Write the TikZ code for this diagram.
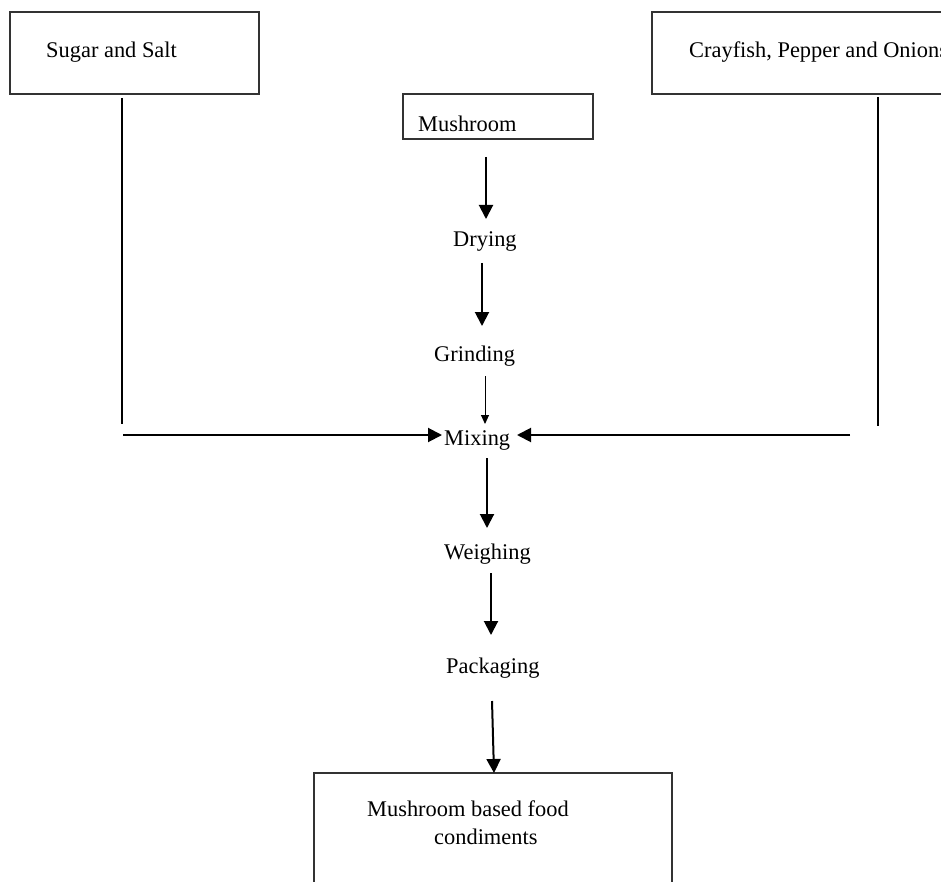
\documentclass[tikz,border=0pt]{standalone}
\usepackage{fontspec}
\setmainfont{Liberation Serif}
\usetikzlibrary{arrows.meta}
\begin{document}
\begin{tikzpicture}[x=1pt,y=-1pt,
  boxline/.style={draw=black!80,line width=1.3pt},
  lbl/.style={anchor=base west,inner sep=0pt,font=\fontsize{22.4}{26}\selectfont},
  flow/.style={line width=2pt,-{Triangle[length=14pt,width=14pt]}},
  thinflow/.style={line width=1pt,-{Triangle[length=9pt,width=8pt]}},
  feed/.style={line width=1.1pt}]
\useasboundingbox (0,0) rectangle (941,882);
% boxes
\draw[boxline] (10,12) rectangle (259,94);
\draw[boxline] (960,12) -- (652,12) -- (652,94) -- (960,94);
\draw[boxline] (403,94) rectangle (593,139);
\draw[boxline] (314,900) -- (314,773) -- (672,773) -- (672,900);
% texts
\node[lbl] (sugar) at (46,58) {Sugar and Salt};
\node[lbl] (cray) at (689,58) {Crayfish, Pepper and Onions};
\node[lbl] (mush) at (418,132) {Mushroom};
\node[lbl] (dry) at (453,247) {Drying};
\node[lbl] (grind) at (434,361) {Grinding};
\node[lbl] (mix) at (444,445) {Mixing};
\node[lbl] (weigh) at (444,559) {Weighing};
\node[lbl] (pack) at (446,673) {Packaging};
\node[lbl] (prod1) at (367,816) {Mushroom based food};
\node[lbl] (prod2) at (434,844) {condiments};
% arrow end points
\coordinate (a1s) at (486,157); \coordinate (a1e) at (486,219);
\coordinate (a2s) at (482,263); \coordinate (a2e) at (482,326);
\coordinate (a3s) at (485,376); \coordinate (a3e) at (485,424);
\coordinate (a4s) at (487,458); \coordinate (a4e) at (487,528);
\coordinate (a5s) at (491,573); \coordinate (a5e) at (491,635);
\coordinate (a6s) at (492,701); \coordinate (a6e) at (494,773);
\coordinate (lt) at (122,98); \coordinate (lb) at (122,424);
\coordinate (ls) at (123,435); \coordinate (le) at (442,435);
\coordinate (rt) at (878,97); \coordinate (rb) at (878,426);
\coordinate (rs) at (850,435); \coordinate (re) at (517,435);
% connectors
\draw[flow] (a1s) -- (a1e);
\draw[flow] (a2s) -- (a2e);
\draw[thinflow] (a3s) -- (a3e);
\draw[flow] (a4s) -- (a4e);
\draw[flow] (a5s) -- (a5e);
\draw[flow] (a6s) -- (a6e);
\draw[feed] (lt) -- (lb);
\draw[feed] (rt) -- (rb);
\draw[flow] (ls) -- (le);
\draw[flow] (rs) -- (re);
\end{tikzpicture}
\end{document}
